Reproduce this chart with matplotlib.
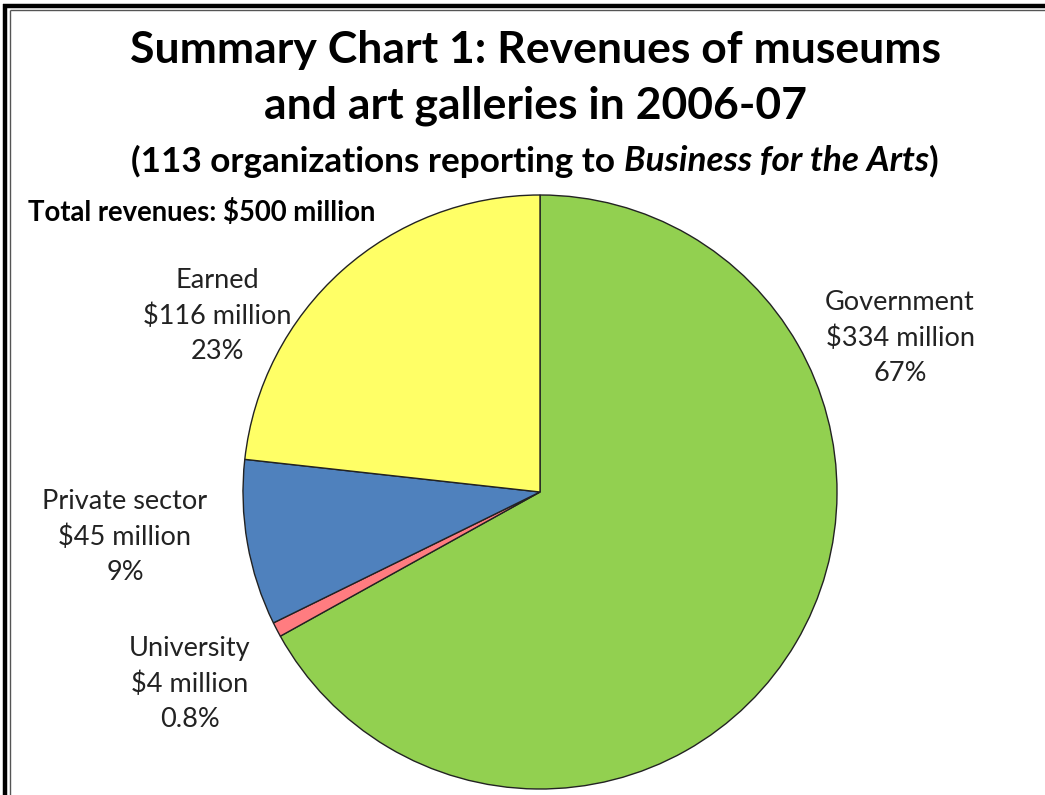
import matplotlib
matplotlib.use("Agg")
import matplotlib.pyplot as plt
from matplotlib.lines import Line2D

# data
categories = ["Government", "University", "Private sector", "Earned"]
amounts = [334, 4, 45, 116]          # $ millions
amount_labels = ["$334 million", "$4 million", "$45 million", "$116 million"]
pct_labels = ["67%", "0.8%", "9%", "23%"]
colors = ["#92D050", "#FF7C80", "#4F81BD", "#FFFF66"]

W, H = 1045, 795
plt.rcParams['font.family'] = ['Lato', 'DejaVu Sans']

fig = plt.figure(figsize=(W / 100, H / 100), dpi=100)
ax = fig.add_axes([0, 0, 1, 1])

# pie in pixel-like data coords (y measured from bottom)
cx, cy, r = 540, H - 492, 297
ax.pie(amounts, colors=colors, startangle=90, counterclock=False,
       center=(cx, cy), radius=r,
       wedgeprops=dict(edgecolor="#222222", linewidth=1))
ax.set_xlim(0, W)
ax.set_ylim(0, H)
ax.set_aspect("equal")
ax.axis("off")

# titles
fig.text(535 / W, 1 - 50 / H, "Summary Chart 1: Revenues of museums",
         ha="center", va="center", fontsize=32, fontweight="bold")
fig.text(535 / W, 1 - 106 / H, "and art galleries in 2006-07",
         ha="center", va="center", fontsize=32, fontweight="bold")

# subtitle with an italic part: lay out pieces left to right
sub_parts = [("(113 organizations reporting to ", "normal"),
             ("Business for the Arts", "italic"),
             (")", "normal")]
sub_size = 25.3
renderer = fig.canvas.get_renderer()
pieces = []
for s, st in sub_parts:
    t = fig.text(0, 1 - 161 / H, s, ha="left", va="center",
                 fontsize=sub_size, fontweight="bold", style=st)
    pieces.append(t)
widths = [p.get_window_extent(renderer).width for p in pieces]
x = 535 - sum(widths) / 2
for p, w in zip(pieces, widths):
    p.set_x(x / W)
    x += w

fig.text(28 / W, 1 - 212 / H, "Total revenues: $500 million",
         ha="left", va="center", fontsize=19.8, fontweight="bold")

# slice labels (centre of text block, in pixels from top-left)
label_pos = [(900, 338), (190, 684), (125, 537), (217, 316)]
for cat, amt, pct, (x, y) in zip(categories, amount_labels, pct_labels, label_pos):
    fig.text(x / W, 1 - y / H, f"{cat}\n{amt}\n{pct}",
             ha="center", va="center", fontsize=19.5, linespacing=1.5,
             color="#222222")

# double frame along top and left
def fline(x0, y0, x1, y1, lw, c):
    fig.add_artist(Line2D([x0 / W, x1 / W], [1 - y0 / H, 1 - y1 / H],
                          transform=fig.transFigure, lw=lw, color=c,
                          solid_capstyle="butt"))

fline(3, 6, W, 6, 3.2, "black")
fline(5, 4, 5, H, 3.2, "black")
fline(9.5, 10, W, 10, 1.0, "#555555")
fline(9.5, 10, 9.5, H, 1.0, "#555555")

fig.savefig("out.png", dpi=100)
